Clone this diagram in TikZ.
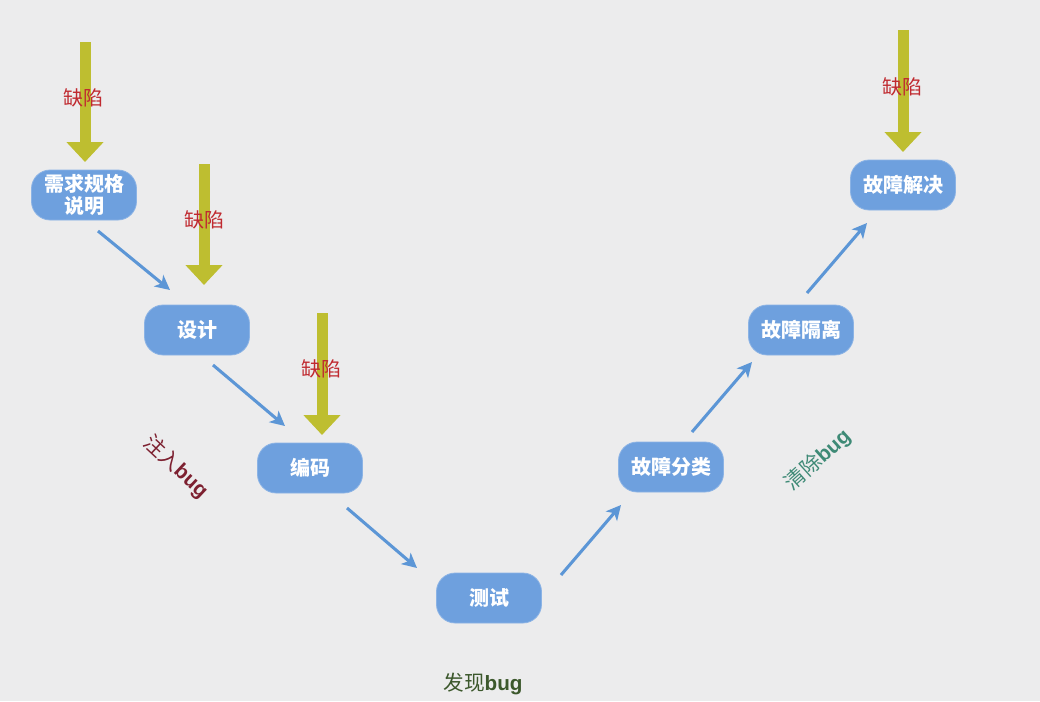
\documentclass[tikz,border=0pt]{standalone}
\usepackage{fontspec}
\setmainfont{Noto Sans CJK SC}
\newfontfamily\latb{Liberation Sans}
\usetikzlibrary{arrows.meta}
\definecolor{bgc}{RGB}{236,236,237}
\definecolor{boxc}{RGB}{110,160,222}
\definecolor{arrc}{RGB}{92,150,214}
\definecolor{yel}{RGB}{190,190,48}
\definecolor{defc}{RGB}{192,42,48}
\definecolor{injc}{RGB}{125,32,48}
\definecolor{clrc}{RGB}{62,138,118}
\definecolor{fndc}{RGB}{60,88,44}
\newcommand{\bugword}{{\latb\bfseries bug}}
\tikzset{
  stagebox/.style={rectangle, rounded corners=14pt, fill=boxc, draw=boxc!80!white, line width=0.6pt,
    minimum width=105*0.75pt, minimum height=50*0.75pt, text=white, font=\fontsize{15}{18}\selectfont\bfseries,
    align=center, inner sep=2pt},
  yarrow/.style={draw=yel, line width=11*0.75pt, -{Triangle[width=36*0.75pt,length=20*0.75pt]}, yel},
  barrow/.style={draw=arrc, line width=2.3pt, -{Stealth[length=11pt,width=11pt,inset=3pt]}},
  deflabel/.style={text=defc, font=\fontsize{15}{17}\selectfont, inner sep=0pt},
  phase/.style={font=\fontsize{15.5}{17}\selectfont, inner sep=0pt}
}
\begin{document}
\begin{tikzpicture}[x=0.75pt,y=-0.75pt]
\fill[bgc] (0,0) rectangle (1040,701);
\useasboundingbox (0,0) rectangle (1040,701);
% stage nodes
\node[stagebox] (n1) at (84,195) {需求规格\\[-1pt]说明};
\node[stagebox] (n2) at (197,330) {设计};
\node[stagebox] (n3) at (310,468) {编码};
\node[stagebox] (n4) at (489,598) {测试};
\node[stagebox] (n5) at (671,467) {故障分类};
\node[stagebox] (n6) at (801,330) {故障隔离};
\node[stagebox] (n7) at (903,185) {故障解决};
% blue connector end points
\coordinate (a1s) at (98,231);  \coordinate (a1e) at (170,290);
\coordinate (a2s) at (213,365); \coordinate (a2e) at (285,426);
\coordinate (a3s) at (347,508); \coordinate (a3e) at (417,568);
\coordinate (a4s) at (561,575); \coordinate (a4e) at (621,505);
\coordinate (a5s) at (692,432); \coordinate (a5e) at (752,362);
\coordinate (a6s) at (807,293); \coordinate (a6e) at (867,223);
\draw[barrow] (a1s) -- (a1e);
\draw[barrow] (a2s) -- (a2e);
\draw[barrow] (a3s) -- (a3e);
\draw[barrow] (a4s) -- (a4e);
\draw[barrow] (a5s) -- (a5e);
\draw[barrow] (a6s) -- (a6e);
% defect arrows
\coordinate (d1t) at (85,42);   \coordinate (d1h) at (85,162);
\coordinate (d2t) at (204,164); \coordinate (d2h) at (204,285);
\coordinate (d3t) at (322,313); \coordinate (d3h) at (322,435);
\coordinate (d4t) at (903,30);  \coordinate (d4h) at (903,152);
\draw[yarrow] (d1t) -- (d1h);
\draw[yarrow] (d2t) -- (d2h);
\draw[yarrow] (d3t) -- (d3h);
\draw[yarrow] (d4t) -- (d4h);
\node[deflabel] (l1) at (83,98) {缺陷};
\node[deflabel] (l2) at (204,220) {缺陷};
\node[deflabel] (l3) at (321,369) {缺陷};
\node[deflabel] (l4) at (902,87) {缺陷};
% phase labels
\node[phase, text=injc, rotate=-43] (inj) at (176,467) {注入\bugword};
\node[phase, text=clrc, rotate=42] (clr) at (818,460) {清除\bugword};
\node[phase, text=fndc] (fnd) at (483,684) {发现\bugword};
\end{tikzpicture}
\end{document}
